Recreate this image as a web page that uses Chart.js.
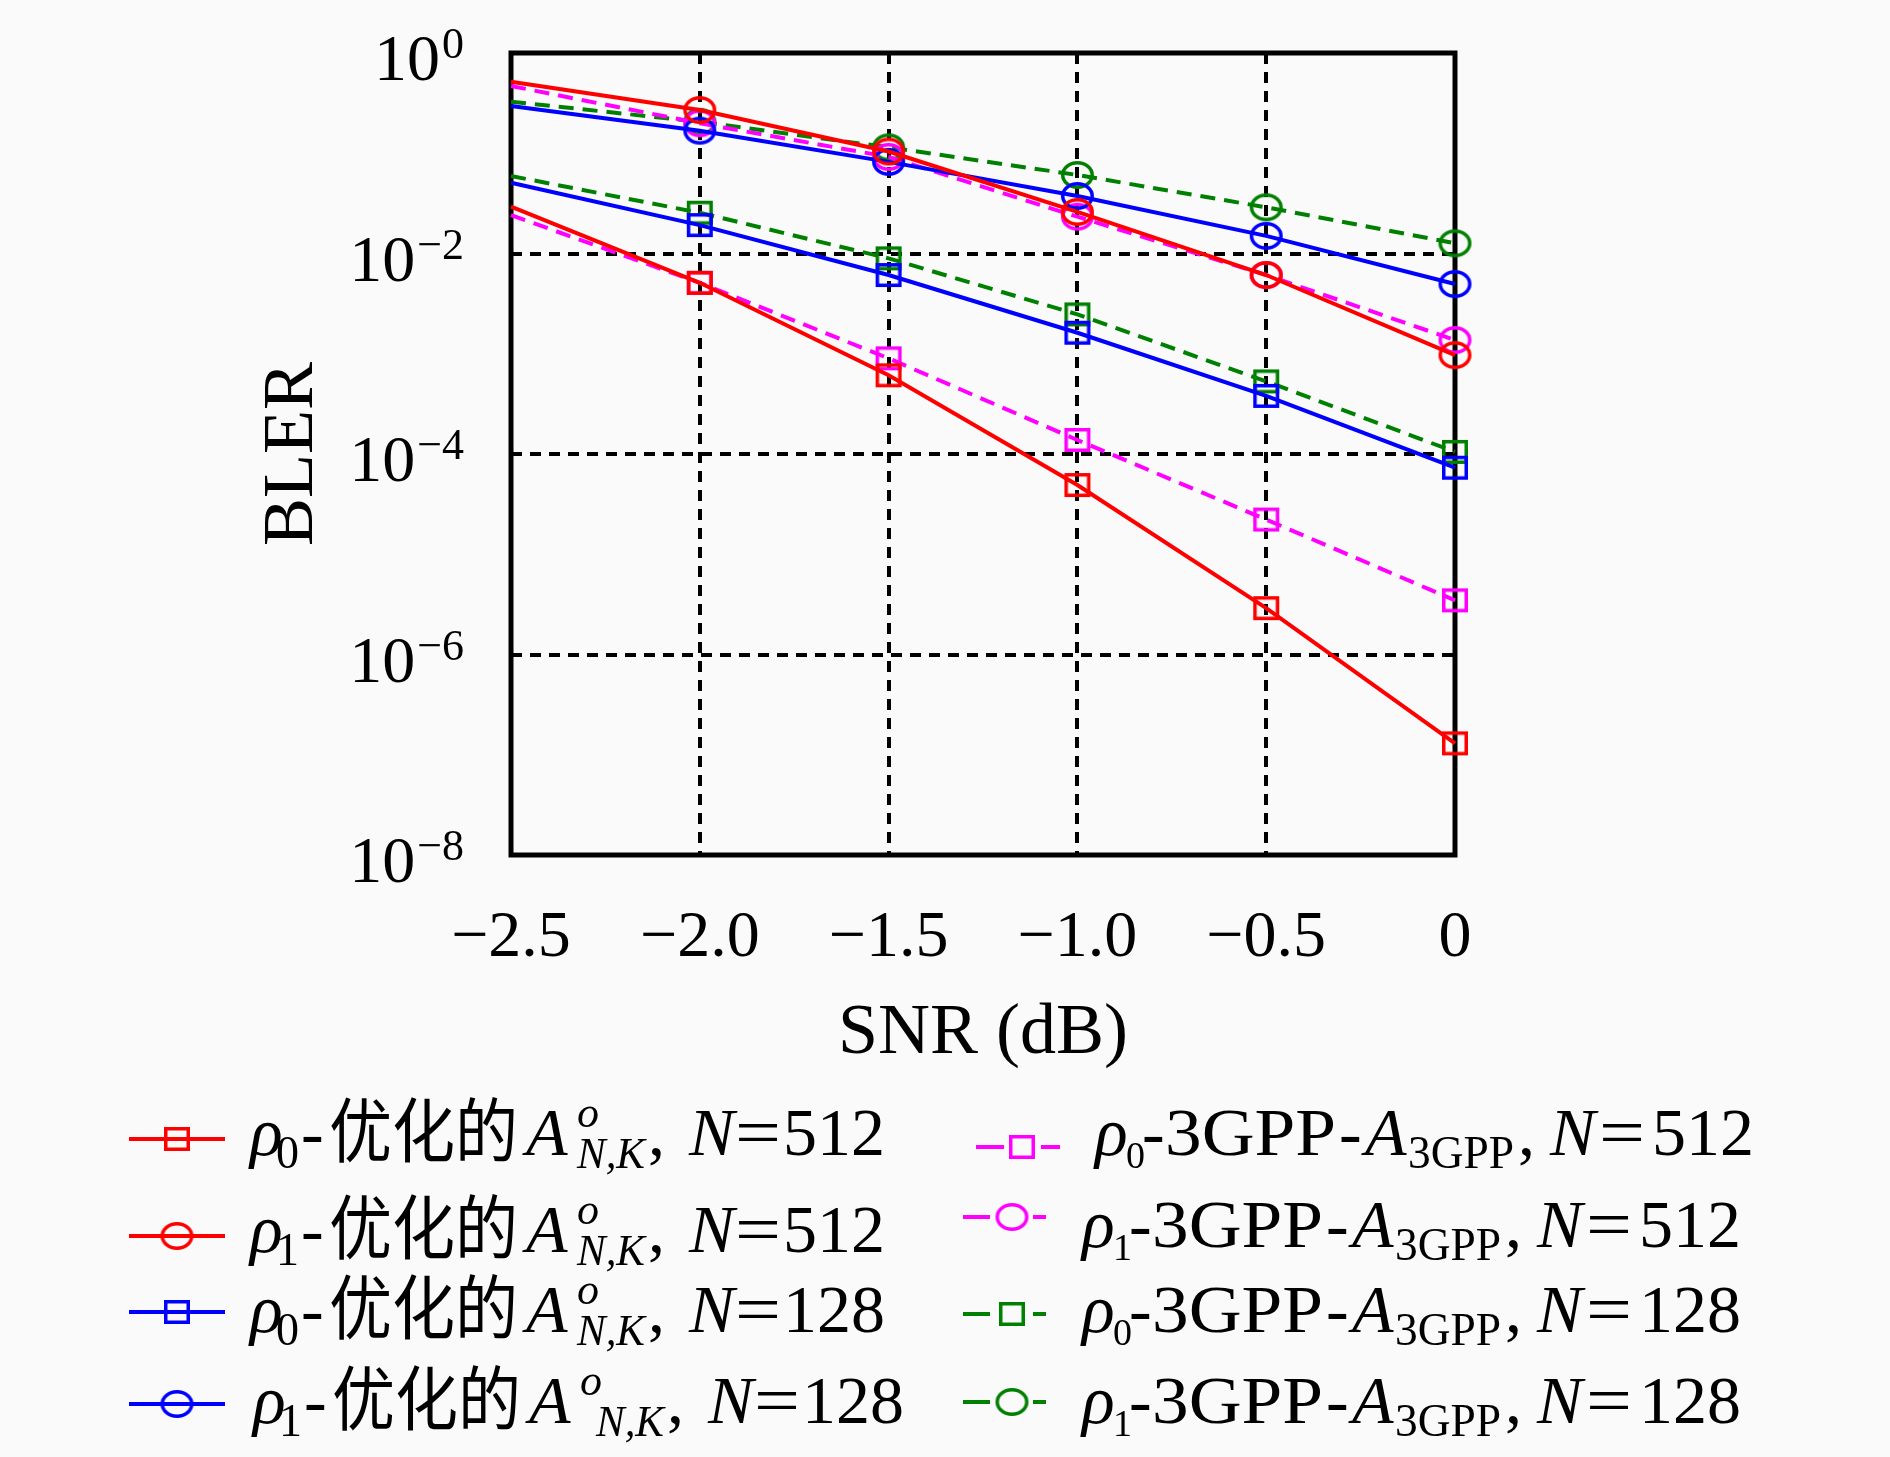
<!DOCTYPE html>
<html>
<head>
<meta charset="utf-8">
<script src="https://cdn.jsdelivr.net/npm/chart.js@4.4.1/dist/chart.umd.min.js"></script>
<style>
  html, body { margin: 0; padding: 0; background: #fafafa; }
  #chart { display: block; }
</style>
</head>
<body>
<canvas id="chart" width="1890" height="1457" style="width:1890px;height:1457px"></canvas>
<script>
// x values (SNR in dB) and tick labels
const snr = [-2.5, -2.0, -1.5, -1.0, -0.5, 0];
const xTickLabels = ['\u22122.5', '\u22122.0', '\u22121.5', '\u22121.0', '\u22120.5', '0'];
const yTickValues = [1, 1e-2, 1e-4, 1e-6, 1e-8];
const yTickExponents = ['0', '\u22122', '\u22124', '\u22126', '\u22128'];

// BLER
const optRho0N512 = [2.93e-2, 5.1e-3, 6.1e-4, 4.9e-5, 2.9e-6, 1.3e-7];
const optRho1N512 = [0.517, 0.27, 0.104, 2.6e-2, 6.1e-3, 9.7e-4];
const optRho0N128 = [5.08e-2, 1.92e-2, 6.1e-3, 1.62e-3, 3.8e-4, 7.3e-5];
const optRho1N128 = [0.296, 0.168, 8.2e-2, 3.75e-2, 1.5e-2, 4.96e-3];
const gppRho0N512 = [2.42e-2, 5.1e-3, 9.0e-4, 1.38e-4, 2.22e-5, 3.47e-6];
const gppRho1N512 = [0.469, 0.199, 9.2e-2, 2.33e-2, 6.1e-3, 1.37e-3];
const gppRho0N128 = [5.93e-2, 2.55e-2, 8.95e-3, 2.47e-3, 5.3e-4, 1.05e-4];
const gppRho1N128 = [0.327, 0.206, 0.1146, 6.07e-2, 2.89e-2, 1.265e-2];

const RED = '#ff0000', BLUE = '#0000ff', MAGENTA = '#ff00ff', GREEN = '#008000';
const DASH = [15, 9];

function makeMarker(shape, color) {
    var c = document.createElement('canvas');
    var w = shape == 'circle' ? 33 : 26;
    var h = shape == 'circle' ? 28 : 24;
    c.width = w + 4;
    c.height = h + 4;
    var g = c.getContext('2d');
    g.strokeStyle = color;
    g.lineWidth = 3.5;
    if (shape == 'circle') {
        g.beginPath();
        g.ellipse(c.width / 2, c.height / 2, w / 2 - 1.75, h / 2 - 1.75, 0, 0, Math.PI * 2);
        g.stroke();
    } else {
        g.strokeRect(2 + 1.75, 2 + 1.75, w - 3.5, h - 3.5);
    }
    return c;
}

const series = [
    { values: optRho0N512, color: RED, shape: 'square', dashed: false },
    { values: optRho1N512, color: RED, shape: 'circle', dashed: false },
    { values: optRho0N128, color: BLUE, shape: 'square', dashed: false },
    { values: optRho1N128, color: BLUE, shape: 'circle', dashed: false },
    { values: gppRho0N512, color: MAGENTA, shape: 'square', dashed: true },
    { values: gppRho1N512, color: MAGENTA, shape: 'circle', dashed: true },
    { values: gppRho0N128, color: GREEN, shape: 'square', dashed: true },
    { values: gppRho1N128, color: GREEN, shape: 'circle', dashed: true }
];
series.forEach(function (s) { s.marker = makeMarker(s.shape, s.color); });

const datasets = series.map(function (s) {
    return {
        data: snr.map(function (x, i) { return { x: x, y: s.values[i] }; }),
        borderColor: s.color,
        borderWidth: 4,
        borderDash: s.dashed ? DASH : [],
        pointStyle: s.marker,
        pointRadius: snr.map(function (x, i) { return i == 0 ? 0 : 10; }),
        fill: false,
        tension: 0,
        clip: false
    };
});

// fonts for the custom texts
const MAIN = '68px "Liberation Serif"';
const IT = 'italic 68px "Liberation Serif"';
const SUB = '46px "Liberation Serif"';
const SUBR = '38px "Liberation Serif"';
const SUBIT = 'italic 44px "Liberation Serif"';
const CJK = '70px "Noto Sans CJK SC"';

function put(ctx, text, font, x, y, width) {
    ctx.font = font;
    if (width) {
        var w = ctx.measureText(text).width;
        ctx.save();
        ctx.translate(x, y);
        ctx.scale(width / w, 1);
        ctx.fillText(text, 0, 0);
        ctx.restore();
    } else {
        ctx.fillText(text, x, y);
    }
}

function leftParts(k, n, s) {
    return [
        ['\u03c1', IT, 0, 0],
        [k, SUB, 26, 13],
        ['-', MAIN, 51, 0],
        ['\u4f18\u5316\u7684', CJK, 79, 2, 189],
        ['A', IT, 276, 0],
        ['o', SUBIT, 327, -28],
        ['N,K', SUBIT, 327 + s, 13, 68],
        [',', MAIN, 398 + s, 0],
        ['N', IT, 439 + s, 0],
        ['=', MAIN, 485 + s, 0, 46],
        [n, MAIN, 533 + s, 0, 102]
    ];
}

function rightParts(k, n) {
    return [
        ['\u03c1', IT, 0, 0],
        [k, SUBR, 31, 13],
        ['-', MAIN, 47, 0],
        ['3GPP', MAIN, 70, 0, 171],
        ['-', MAIN, 244, 0],
        ['A', IT, 270, 0],
        ['3GPP', SUB, 313, 13, 106],
        [',', MAIN, 423, 0],
        ['N', IT, 455, 0],
        ['=', MAIN, 504, 0, 46],
        [n, MAIN, 557, 0, 102]
    ];
}

const legendRows = [
    { s: 0, col: 'L', x: 250, base: 1155, lineY: 1139, k: '0', n: '512', shift: 0 },
    { s: 1, col: 'L', x: 250, base: 1252, lineY: 1236, k: '1', n: '512', shift: 0 },
    { s: 2, col: 'L', x: 250, base: 1332, lineY: 1312, k: '0', n: '128', shift: 0 },
    { s: 3, col: 'L', x: 253, base: 1423, lineY: 1404, k: '1', n: '128', shift: 16 },
    { s: 4, col: 'R', x: 1095, base: 1155, lineY: 1147, k: '0', n: '512', seg: [976, 1004, 1041, 1060], mx: 1022 },
    { s: 5, col: 'R', x: 1082, base: 1247, lineY: 1217, k: '1', n: '512', seg: [963, 990, 1033, 1046], mx: 1012 },
    { s: 6, col: 'R', x: 1082, base: 1332, lineY: 1314, k: '0', n: '128', seg: [963, 990, 1033, 1046], mx: 1012 },
    { s: 7, col: 'R', x: 1082, base: 1423, lineY: 1402, k: '1', n: '128', seg: [963, 990, 1033, 1046], mx: 1012 }
];

const background = {
    id: 'background',
    beforeDraw: function (chart) {
        var ctx = chart.ctx;
        ctx.save();
        ctx.fillStyle = '#fafafa';
        ctx.fillRect(0, 0, chart.width, chart.height);
        ctx.restore();
    }
};

const frame = {
    id: 'frame',
    beforeDatasetsDraw: function (chart) {
        var a = chart.chartArea, ctx = chart.ctx;
        ctx.save();
        ctx.strokeStyle = '#000';
        ctx.lineWidth = 5;
        ctx.strokeRect(a.left, a.top, a.right - a.left, a.bottom - a.top);
        ctx.restore();
    }
};

const yLabels = {
    id: 'yLabels',
    afterDraw: function (chart) {
        var ctx = chart.ctx, y = chart.scales.y;
        var right = chart.chartArea.left - 47;
        ctx.save();
        ctx.fillStyle = '#000';
        ctx.textAlign = 'right';
        ctx.textBaseline = 'alphabetic';
        yTickValues.forEach(function (v, i) {
            var py = y.getPixelForValue(v);
            ctx.font = '44px "Liberation Serif"';
            var ew = ctx.measureText(yTickExponents[i]).width;
            ctx.fillText(yTickExponents[i], right, py + 5);
            ctx.font = '66px "Liberation Serif"';
            ctx.fillText('10', right - ew - 2, py + 27);
        });
        ctx.restore();
    }
};

const legendBox = {
    id: 'legendBox',
    afterDraw: function (chart) {
        var ctx = chart.ctx;
        ctx.save();
        legendRows.forEach(function (r) {
            var s = series[r.s];
            ctx.strokeStyle = s.color;
            ctx.lineWidth = 4;
            ctx.beginPath();
            var mx;
            if (r.col == 'L') {
                ctx.moveTo(129, r.lineY);
                ctx.lineTo(225, r.lineY);
                mx = 177;
            } else {
                ctx.moveTo(r.seg[0], r.lineY);
                ctx.lineTo(r.seg[1], r.lineY);
                ctx.moveTo(r.seg[2], r.lineY);
                ctx.lineTo(r.seg[3], r.lineY);
                mx = r.mx;
            }
            ctx.stroke();
            ctx.drawImage(s.marker, mx - s.marker.width / 2, r.lineY - s.marker.height / 2);

            ctx.fillStyle = '#000';
            ctx.textAlign = 'left';
            ctx.textBaseline = 'alphabetic';
            var parts = r.col == 'L' ? leftParts(r.k, r.n, r.shift) : rightParts(r.k, r.n);
            parts.forEach(function (p) {
                put(ctx, p[0], p[1], r.x + p[2], r.base + p[3], p[4]);
            });
        });
        ctx.restore();
    }
};

const gridStyle = { color: '#000', lineWidth: 4, drawTicks: false };
const borderStyle = { display: false, dash: [11, 8] };

const config = {
    type: 'line',
    data: { datasets: datasets },
    options: {
        responsive: false,
        animation: false,
        events: [],
        layout: { padding: { left: 250, right: 435, top: 53, bottom: 380 } },
        plugins: { legend: { display: false }, tooltip: { enabled: false } },
        scales: {
            x: {
                type: 'linear',
                min: -2.5,
                max: 0,
                afterBuildTicks: function (s) { s.ticks = snr.map(function (v) { return { value: v }; }); },
                afterFit: function (s) { s.height = 222; },
                ticks: {
                    autoSkip: false,
                    maxRotation: 0,
                    padding: 44,
                    color: '#000',
                    font: { family: 'Liberation Serif', size: 66 },
                    callback: function (v, i) { return xTickLabels[i]; }
                },
                grid: gridStyle,
                border: borderStyle,
                title: {
                    display: true,
                    text: 'SNR (dB)',
                    color: '#000',
                    padding: 0,
                    font: { family: 'Liberation Serif', size: 72 }
                }
            },
            y: {
                type: 'logarithmic',
                min: 1e-8,
                max: 1,
                afterBuildTicks: function (s) { s.ticks = yTickValues.map(function (v) { return { value: v }; }); },
                afterFit: function (s) { s.width = 261; },
                ticks: { display: false },
                grid: gridStyle,
                border: borderStyle,
                title: {
                    display: true,
                    text: 'BLER',
                    color: '#000',
                    padding: 0,
                    font: { family: 'Liberation Serif', size: 72 }
                }
            }
        }
    },
    plugins: [background, frame, yLabels, legendBox]
};

var chart = new Chart(document.getElementById('chart'), config);
</script>
</body>
</html>
